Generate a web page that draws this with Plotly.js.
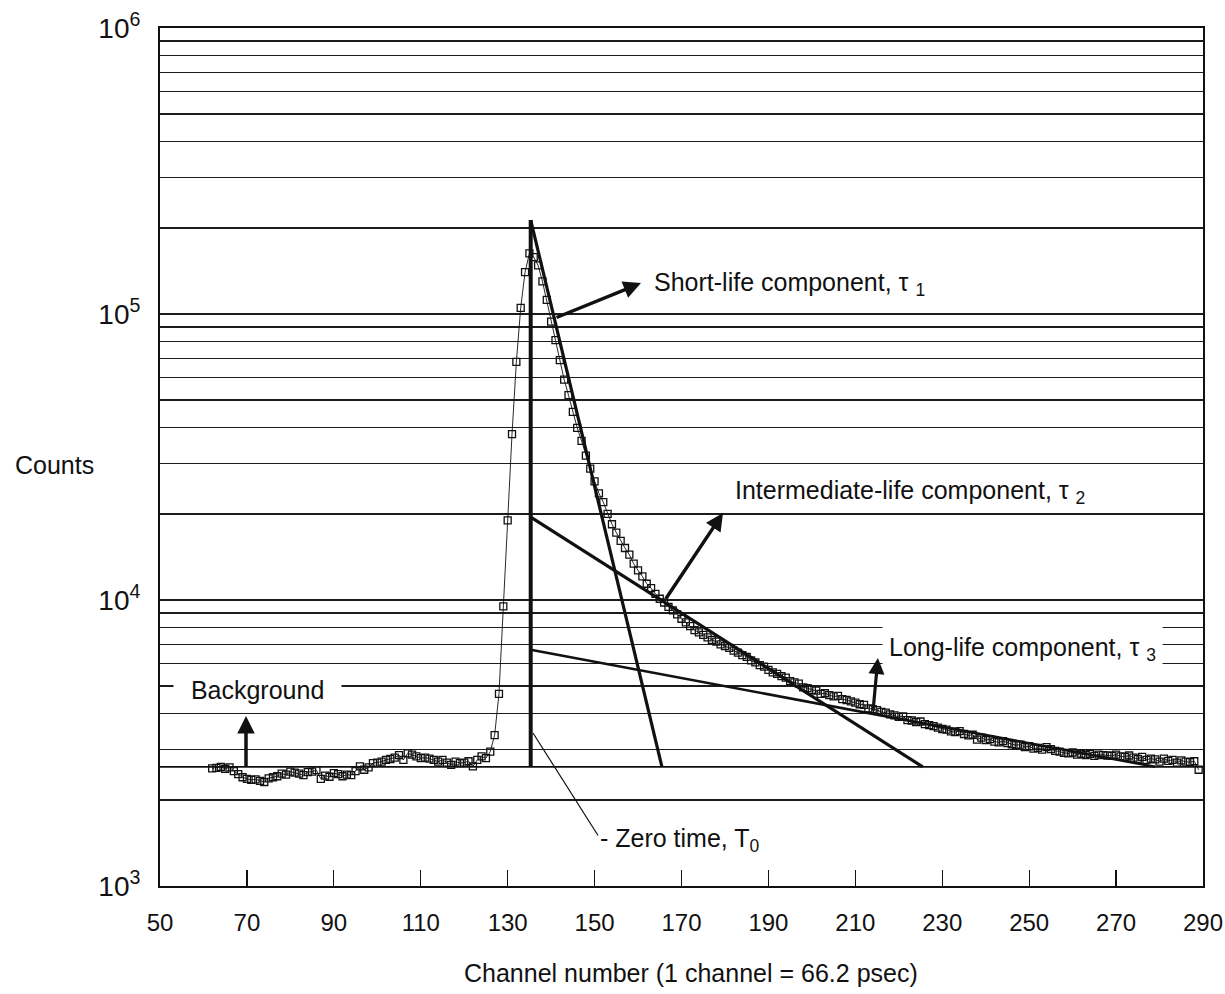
<!DOCTYPE html>
<html>
<head>
<meta charset="utf-8">
<script src="https://cdn.plot.ly/plotly-3.0.1.min.js"></script>
<style>
  html, body { margin: 0; padding: 0; background: #ffffff; }
  #chart { width: 1225px; height: 994px; }
</style>
</head>
<body>
<div id="chart"></div>
<script>
// Channel numbers (x) of the measured spectrum
const channels = [
  62,63,64,65,66,67,68,69,
  70,71,72,73,74,75,76,77,78,79,
  80,81,82,83,84,85,86,87,88,89,
  90,91,92,93,94,95,96,97,98,99,
  100,101,102,103,104,105,106,107,108,109,
  110,111,112,113,114,115,116,117,118,119,
  120,121,122,123,124,125,126,127,128,129,
  130,131,132,133,134,135,136,137,138,139,
  140,141,142,143,144,145,146,147,148,149,
  150,151,152,153,154,155,156,157,158,159,
  160,161,162,163,164,165,166,167,168,169,
  170,171,172,173,174,175,176,177,178,179,
  180,181,182,183,184,185,186,187,188,189,
  190,191,192,193,194,195,196,197,198,199,
  200,201,202,203,204,205,206,207,208,209,
  210,211,212,213,214,215,216,217,218,219,
  220,221,222,223,224,225,226,227,228,229,
  230,231,232,233,234,235,236,237,238,239,
  240,241,242,243,244,245,246,247,248,249,
  250,251,252,253,254,255,256,257,258,259,
  260,261,262,263,264,265,266,267,268,269,
  270,271,272,273,274,275,276,277,278,279,
  280,281,282,283,284,285,286,287,288,289
];
// Counts per channel
const counts = [
  2580,2590,2610,2570,2600,2520,2460,2400,
  2370,2350,2360,2330,2310,2380,2400,2420,2470,2450,
  2510,2490,2470,2440,2500,2510,2540,2370,2430,2410,
  2480,2460,2420,2450,2440,2520,2620,2550,2600,2690,
  2700,2720,2760,2780,2810,2870,2760,2910,2880,2840,
  2800,2810,2790,2760,2720,2760,2700,2650,2720,2690,
  2700,2730,2620,2760,2840,2800,2950,3370,4700,9500,
  19000,38000,68000,105000,140000,163000,158000,148000,130000,112000,
  94000,81000,69000,59000,52000,45500,40000,36000,32000,28800,
  26000,23600,22000,20000,18400,17200,16100,15200,14400,13400,
  12700,12100,11400,11000,10500,10100,9800,9460,9200,8900,
  8600,8350,8100,7850,7700,7550,7400,7250,7150,7000,
  6900,6800,6650,6550,6420,6330,6150,6050,5920,5850,
  5700,5580,5520,5420,5350,5200,5150,5100,4950,4920,
  4850,4820,4700,4720,4650,4600,4620,4500,4470,4420,
  4380,4320,4300,4180,4150,4120,4060,4040,3980,3950,
  3900,3920,3800,3790,3740,3760,3680,3650,3620,3580,
  3540,3520,3470,3450,3480,3400,3360,3380,3250,3300,
  3240,3260,3200,3180,3210,3160,3130,3110,3120,3060,
  3080,3020,3040,3000,3060,3010,2970,2950,2920,2910,
  2930,2880,2900,2870,2900,2850,2880,2870,2860,2850,
  2880,2840,2830,2860,2810,2780,2830,2760,2790,2770,
  2720,2790,2740,2760,2700,2750,2720,2710,2730,2550
];

// Background level line
const bgX = [50, 290];
const bgY = [2610, 2610];
// Zero time (T0) vertical line
const zeroX = [135.3, 135.3];
const zeroY = [2610, 213000];
// Fitted components (straight lines on the log scale)
const shortX = [135.3, 165.5];
const shortY = [213000, 2610];
const interX = [135.3, 225.5];
const interY = [19500, 2610];
const longX  = [135.3, 279];
const longY  = [6700, 2610];

// Axis ticks
const xTickVals = [50,70,90,110,130,150,170,190,210,230,250,270,290];
const yTickVals = [
  1000,2000,3000,4000,5000,6000,7000,8000,9000,
  10000,20000,30000,40000,50000,60000,70000,80000,90000,
  100000,200000,300000,400000,500000,600000,700000,800000,900000,
  1000000
];
const yTickText = [
  '10<sup>3</sup>','','','','','','','','',
  '10<sup>4</sup>','','','','','','','','',
  '10<sup>5</sup>','','','','','','','','',
  '10<sup>6</sup>'
];

const ink = '#111111';
const FONT = 'Liberation Sans, Arial, Helvetica, sans-serif';

const traces = [
  { x: bgX, y: bgY, mode: 'lines', line: {color: ink, width: 1.6}, hoverinfo: 'skip' },
  { x: shortX, y: shortY, mode: 'lines', line: {color: ink, width: 3.2}, hoverinfo: 'skip' },
  { x: interX, y: interY, mode: 'lines', line: {color: ink, width: 3.2}, hoverinfo: 'skip' },
  { x: longX, y: longY, mode: 'lines', line: {color: ink, width: 2.6}, hoverinfo: 'skip' },
  { x: channels, y: counts, mode: 'lines+markers',
    line: {color: ink, width: 0.9},
    marker: {symbol: 'square-open', size: 7, color: ink, line: {width: 1.3, color: ink}} },
  { x: zeroX, y: zeroY, mode: 'lines', line: {color: ink, width: 4}, hoverinfo: 'skip' }
];

function arrow(x, y, ax, ay, w, head) {
  return { x: x, y: y, xref: 'x', yref: 'y', text: '', showarrow: true,
           arrowhead: head, arrowsize: 1, arrowwidth: w, arrowcolor: ink,
           ax: ax, ay: ay };
}
function label(x, y, text, extra) {
  return Object.assign({ x: x, y: y, xref: 'x', yref: 'y', text: text, showarrow: false,
           xanchor: 'left', yanchor: 'middle', font: {family: FONT, size: 25, color: ink} }, extra || {});
}

const layout = {
  width: 1225, height: 994,
  margin: {l: 160, r: 22, t: 28, b: 108, pad: 0},
  paper_bgcolor: '#ffffff', plot_bgcolor: '#ffffff',
  showlegend: false,
  font: {family: FONT, color: ink, size: 24},
  xaxis: {
    range: [50, 290], tickvals: xTickVals, ticks: 'inside', ticklen: 16, tickwidth: 1.2, tickcolor: ink,
    showgrid: false, zeroline: false, showline: true, linewidth: 2, linecolor: ink, mirror: true,
    tickfont: {family: FONT, size: 24, color: ink}, ticklabelstandoff: 14
  },
  yaxis: {
    type: 'log', range: [3, 6], tickvals: yTickVals, ticktext: yTickText, ticks: '',
    showgrid: true, gridcolor: '#1c1c1c', gridwidth: 1.2,
    showline: true, linewidth: 2, linecolor: ink, mirror: true, zeroline: false,
    tickfont: {family: FONT, size: 28, color: ink}, ticklabelstandoff: 12
  },
  annotations: [
    { xref: 'paper', yref: 'paper', x: -0.1007, y: 0.4907, text: 'Counts', showarrow: false,
      xanchor: 'center', yanchor: 'middle', font: {family: FONT, size: 25, color: ink} },
    { xref: 'paper', yref: 'paper', x: 0.509, y: -0.1014, text: 'Channel number (1 channel = 66.2 psec)',
      showarrow: false, xanchor: 'center', yanchor: 'middle', font: {family: FONT, size: 25, color: ink} },
    label(163.2, 5.105, 'Short-life component, τ <sub>1</sub>'),
    label(181.85, 4.378, 'Intermediate-life component, τ <sub>2</sub>'),
    label(216.1, 3.829, 'Long-life component, τ <sub>3</sub>', {bgcolor: '#ffffff', borderpad: 6}),
    label(53.0, 3.685, '&nbsp;&nbsp;Background&nbsp;&nbsp;', {bgcolor: '#ffffff', borderpad: 3}),
    label(150.8, 3.161, '- Zero time, T<sub>0</sub>'),
    arrow(160.68, 5.108, -86, 35, 3.5, 2),
    arrow(179.55, 4.304, -58, 87, 3.5, 2),
    arrow(215.2, 3.797, -5, 54, 3.2, 2),
    arrow(69.79, 3.594, 0, 52, 3.5, 2),
    arrow(135.83, 3.535, 66, 104, 1.2, 0)
  ]
};

Plotly.newPlot('chart', traces, layout, {staticPlot: true, displayModeBar: false});
</script>
</body>
</html>
